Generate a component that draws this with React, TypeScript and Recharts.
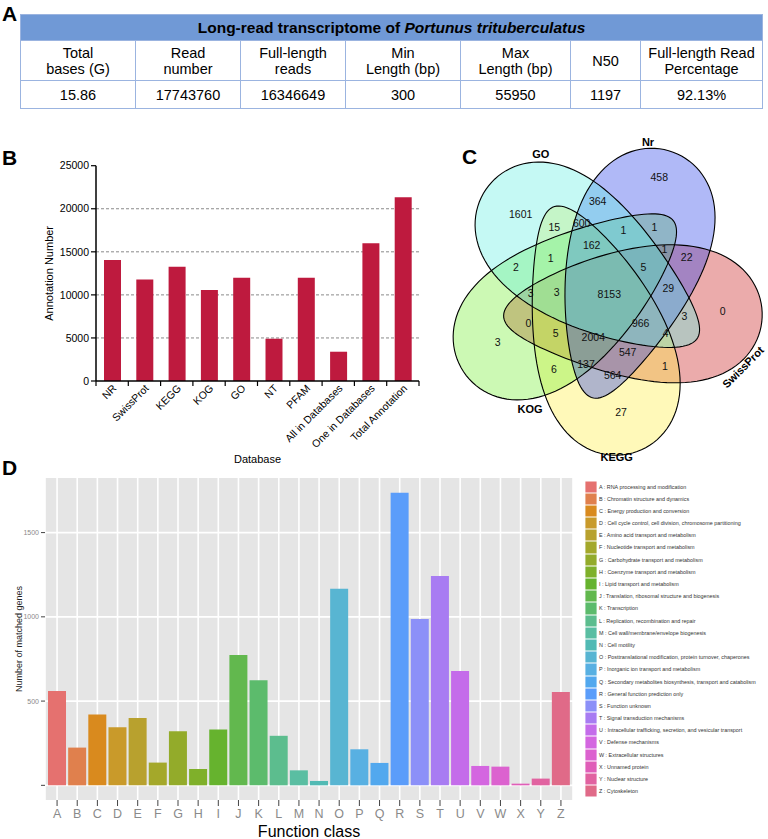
import React from 'react'
import {
  BarChart, Bar, XAxis, YAxis, CartesianGrid, Cell, Label,
  ScatterChart, Scatter,
} from 'recharts'

const FONT = 'Arial, "Liberation Sans", Helvetica, sans-serif'

// ---- panel A: summary table
const SUMMARY_TITLE = 'Long-read transcriptome of '
const SUMMARY_SPECIES = 'Portunus trituberculatus'
const SUMMARY_HEADERS = [
  ['Total', 'bases (G)'], ['Read', 'number'], ['Full-length', 'reads'],
  ['Min', 'Length (bp)'], ['Max', 'Length (bp)'], ['N50'], ['Full-length Read', 'Percentage'],
]
const SUMMARY_VALUES = ['15.86', '17743760', '16346649', '300', '55950', '1197', '92.13%']
const COL_WIDTHS = [115, 105, 105, 115, 110, 70, 122]

// ---- panel B: annotation per database
const DATABASES = [
  'NR', 'SwissProt', 'KEGG', 'KOG', 'GO', 'NT', 'PFAM',
  'All in Databases', 'One in Databases', 'Total Annotation',
]
const ANNOTATION_COUNTS = [14050, 11800, 13270, 10560, 11990, 4910, 11990, 3400, 15990, 21330]
const B_TICKS = [0, 5000, 10000, 15000, 20000, 25000]

// ---- panel C: five-set venn
const VENN_SETS = ['SwissProt', 'KEGG', 'KOG', 'Nr', 'GO']
const VENN_COUNTS = [
  1601, 458, 364, 15, 600, 1, 1, 162, 1, 22, 2, 1, 5, 3, 3, 8153,
  29, 0, 966, 3, 0, 3, 5, 2004, 4, 547, 6, 137, 564, 1, 27,
]

// ---- panel D: KOG function classes
const FUNCTION_CLASSES = 'ABCDEFGHIJKLMNOPQRSTUVWXYZ'.split('')
const FUNCTION_NAMES = [
  'RNA processing and modification',
  'Chromatin structure and dynamics',
  'Energy production and conversion',
  'Cell cycle control, cell division, chromosome partitioning',
  'Amino acid transport and metabolism',
  'Nucleotide transport and metabolism',
  'Carbohydrate transport and metabolism',
  'Coenzyme transport and metabolism',
  'Lipid transport and metabolism',
  'Translation, ribosomal structure and biogenesis',
  'Transcription',
  'Replication, recombination and repair',
  'Cell wall/membrane/envelope biogenesis',
  'Cell motility',
  'Posttranslational modification, protein turnover, chaperones',
  'Inorganic ion transport and metabolism',
  'Secondary metabolites biosynthesis, transport and catabolism',
  'General function prediction only',
  'Function unknown',
  'Signal transduction mechanisms',
  'Intracellular trafficking, secretion, and vesicular transport',
  'Defense mechanisms',
  'Extracellular structures',
  'Unnamed protein',
  'Nuclear structure',
  'Cytoskeleton',
]
const MATCHED_GENES = [
  560, 224, 421, 345, 399, 135, 321, 97, 331, 774, 623, 294, 89,
  26, 1167, 214, 133, 1737, 987, 1243, 679, 115, 111, 10, 40, 554,
]
const D_TICKS = [0, 500, 1000, 1500]
const CLASS_COLORS = [
  '#e5716f', '#e0804d', '#d98a1e', '#c99a2a', '#b8a12e', '#a4a82a', '#93ab2a',
  '#7fb02a', '#66b32e', '#62b84e', '#5cbb6c', '#5cbd8e', '#5abea2', '#52bab4',
  '#58b5d2', '#58b0e2', '#52a8ee', '#5b9dfa', '#8c90f8', '#a87cf2', '#c46cea',
  '#d466e0', '#dc62cf', '#e05eb8', '#e162a0', '#e06a88',
]

// ---- layout (venn drawn in page pixel units)
const VENN_BOX = { left: 440, top: 130, width: 328, height: 340 }
const VENN_CENTER = { x: 604, y: 296 }
const VENN_STYLE: Record<string, { angle: number; fill: string }> = {
  GO: { angle: 133, fill: '#62f0e2' },
  Nr: { angle: 61, fill: '#2a40ea' },
  SwissProt: { angle: 349, fill: '#c81a1a' },
  KEGG: { angle: 277, fill: '#fff040' },
  KOG: { angle: 205, fill: '#76f034' },
}
const VENN_OPACITY = 0.37
const VENN_LABEL_POS: Record<string, [number, number, number]> = {
  GO: [540.7, 154, 0], Nr: [648, 141.7, 0], SwissProt: [743, 367, -45],
  KEGG: [616.7, 456.7, 0], KOG: [530, 409, 0],
}
const VENN_COUNT_POS = [
  [520.7, 214.3], [659.3, 176.7], [597.7, 200.7], [554.3, 227.3], [581.7, 223.3],
  [623.3, 230], [654.3, 226.7], [591.7, 244.7], [664.3, 248.7], [686.7, 256.7],
  [516, 266.7], [550.7, 257.7], [643.3, 267.3], [530.7, 292.7], [556.7, 291.7],
  [609.3, 294.3], [668.3, 288.3], [528.3, 322.7], [640.7, 322.7], [684.3, 316],
  [722.7, 310.7], [497.7, 342.3], [555.7, 333.3], [593.3, 336.7], [665.7, 333.3],
  [627.7, 352.3], [554, 369], [586, 364.3], [612.7, 375], [665, 365.7], [621, 412.3],
]
const EGG = { mid: 32.5, half: 127.5, width: 66, taper: 0.35, skew: -36 }

const B_PLOT = { left: 96, right: 419 }
const B_BAND = (B_PLOT.right - B_PLOT.left) / DATABASES.length

function eggPath(cx: number, cy: number, angleDeg: number) {
  const a = (angleDeg * Math.PI) / 180
  const ca = Math.cos(a), sa = Math.sin(a)
  const pts: string[] = []
  const n = 120
  for (let i = 0; i <= n; i++) {
    const t = (i / n) * Math.PI * 2
    const u = EGG.mid + EGG.half * Math.cos(t)
    const s = (1 - Math.cos(t)) / 2
    const v = EGG.width * Math.sin(t) * (1 + EGG.taper * Math.cos(t)) + EGG.skew * s * s
    pts.push(`${(cx + u * ca - v * sa).toFixed(2)},${(cy - (u * sa + v * ca)).toFixed(2)}`)
  }
  return 'M' + pts.join('L') + 'Z'
}

const bData = DATABASES.map((name, i) => ({ name, value: ANNOTATION_COUNTS[i] }))
const dData = FUNCTION_CLASSES.map((cls, i) => ({ cls, value: MATCHED_GENES[i] }))
const vennSets = VENN_SETS.map(name => ({ x: VENN_CENTER.x, y: VENN_CENTER.y, name, ...VENN_STYLE[name] }))
const vennCounts = VENN_COUNTS.map((n, i) => ({ x: VENN_COUNT_POS[i][0], y: VENN_COUNT_POS[i][1], label: String(n) }))
const vennLabels = VENN_SETS.map(name => ({
  x: VENN_LABEL_POS[name][0], y: VENN_LABEL_POS[name][1], rot: VENN_LABEL_POS[name][2], label: name,
}))

function DbTick(props: any) {
  const { x, y, payload, index } = props
  const last = index === DATABASES.length - 1
  const tx = x + 5
  const ty = y + 8
  return (
    <g>
      <line x1={x - B_BAND / 2} x2={x - B_BAND / 2} y1={y} y2={y + 5} stroke="#000" strokeWidth={1.2} />
      {last && <line x1={x + B_BAND / 2} x2={x + B_BAND / 2} y1={y} y2={y + 5} stroke="#000" strokeWidth={1.2} />}
      <text x={tx} y={ty} transform={`rotate(-45 ${tx} ${ty})`} textAnchor="end"
        fontSize={10.5} fontFamily={FONT} fill="#000">{payload.value}</text>
    </g>
  )
}

const panelLetter = (ch: string, left: number, top: number): React.ReactNode => (
  <div style={{
    position: 'absolute', left, top, fontFamily: FONT, fontWeight: 'bold',
    fontSize: 21, lineHeight: '21px', color: '#000',
  }}>{ch}</div>
)

const cellBorder = '1px solid #9bb4e0'

export default function App() {
  return (
    <div style={{ position: 'absolute', left: 0, top: 0, width: 768, height: 839, background: '#fff', fontFamily: FONT }}>
      {panelLetter('A', 2, 3)}
      <table style={{
        position: 'absolute', left: 20, top: 14, width: 742, borderCollapse: 'collapse',
        tableLayout: 'fixed', fontFamily: FONT, color: '#000',
      }}>
        <colgroup>{COL_WIDTHS.map((w, i) => <col key={i} style={{ width: w }} />)}</colgroup>
        <tbody>
          <tr>
            <td colSpan={7} style={{
              height: 25, padding: 0, background: '#7099d6', border: cellBorder,
              textAlign: 'center', fontWeight: 'bold', fontSize: 15.5,
            }}>
              {SUMMARY_TITLE}<i>{SUMMARY_SPECIES}</i>
            </td>
          </tr>
          <tr>
            {SUMMARY_HEADERS.map((h, i) => (
              <td key={i} style={{
                height: 39, padding: 0, border: cellBorder, textAlign: 'center',
                fontSize: 14.5, lineHeight: '16px',
              }}>
                {h.map((line, j) => <div key={j}>{line}</div>)}
              </td>
            ))}
          </tr>
          <tr>
            {SUMMARY_VALUES.map((v, i) => (
              <td key={i} style={{ height: 27, padding: 0, border: cellBorder, textAlign: 'center', fontSize: 14.5 }}>{v}</td>
            ))}
          </tr>
        </tbody>
      </table>

      {panelLetter('B', 2, 147)}
      <div style={{ position: 'absolute', left: 0, top: 150 }}>
        <BarChart width={430} height={320} data={bData}
          margin={{ top: 15.7, right: 430 - B_PLOT.right, bottom: 0, left: 0 }}>
          <CartesianGrid vertical={false} horizontalValues={[5000, 10000, 15000, 20000]}
            stroke="#8a8a8a" strokeDasharray="3 2" />
          <XAxis dataKey="name" height={89} interval={0} tick={<DbTick />} tickLine={false}
            tickSize={0} tickMargin={0} axisLine={{ stroke: '#000', strokeWidth: 1.5 }}>
            <Label value="Database" position="insideBottom" offset={7}
              style={{ fontSize: 11, fontFamily: FONT, fill: '#000' }} />
          </XAxis>
          <YAxis width={B_PLOT.left} domain={[0, 25000]} ticks={B_TICKS} interval={0}
            tick={{ fontSize: 10.5, fontFamily: FONT, fill: '#000' }}
            tickLine={{ stroke: '#000', strokeWidth: 1.2 }} tickSize={5}
            axisLine={{ stroke: '#000', strokeWidth: 1.5 }}>
            <Label value="Annotation Number" angle={-90} position="insideLeft" offset={49}
              style={{ fontSize: 11, fontFamily: FONT, fill: '#000', textAnchor: 'middle' }} />
          </YAxis>
          <Bar dataKey="value" fill="#be1a3e" barSize={17} isAnimationActive={false} />
        </BarChart>
      </div>

      {panelLetter('C', 462, 146)}
      <div style={{ position: 'absolute', left: VENN_BOX.left, top: VENN_BOX.top }}>
        <ScatterChart width={VENN_BOX.width} height={VENN_BOX.height} margin={{ top: 0, right: 0, bottom: 0, left: 0 }}>
          <XAxis type="number" dataKey="x" domain={[VENN_BOX.left, VENN_BOX.left + VENN_BOX.width]} hide />
          <YAxis type="number" dataKey="y" domain={[VENN_BOX.top, VENN_BOX.top + VENN_BOX.height]} reversed hide />
          <Scatter data={vennSets} isAnimationActive={false}
            shape={(p: any) => <path d={eggPath(p.cx, p.cy, p.payload.angle)} fill={p.payload.fill} fillOpacity={VENN_OPACITY} stroke="none" />} />
          <Scatter data={vennSets} isAnimationActive={false}
            shape={(p: any) => <path d={eggPath(p.cx, p.cy, p.payload.angle)} fill="none" stroke="#000" strokeWidth={1.1} />} />
          <Scatter data={vennCounts} isAnimationActive={false}
            shape={(p: any) => (
              <text x={p.cx} y={p.cy} textAnchor="middle" dominantBaseline="central"
                fontSize={10.5} fontFamily={FONT} fill="#111">{p.payload.label}</text>
            )} />
          <Scatter data={vennLabels} isAnimationActive={false}
            shape={(p: any) => (
              <text x={p.cx} y={p.cy} textAnchor="middle" dominantBaseline="central"
                transform={`rotate(${p.payload.rot} ${p.cx} ${p.cy})`}
                fontSize={11} fontWeight="bold" fontFamily={FONT} fill="#000">{p.payload.label}</text>
            )} />
        </ScatterChart>
      </div>

      {panelLetter('D', 2, 457)}
      <div style={{ position: 'absolute', left: 0, top: 460 }}>
        <BarChart width={583} height={379} data={dData} barCategoryGap="5%"
          margin={{ top: 18, right: 10, bottom: 0, left: 0 }}>
          <CartesianGrid fill="#e5e5e5" fillOpacity={1} stroke="#fff" strokeWidth={1.6} horizontalValues={D_TICKS} />
          <XAxis dataKey="cls" height={39} interval={0} padding={{ left: 2, right: 2 }}
            axisLine={false} tickLine={{ stroke: '#444', strokeWidth: 1 }} tickSize={6} tickMargin={3}
            tick={{ fontSize: 12.5, fontFamily: FONT, fill: '#8a8a8a' }}>
            <Label value="Function class" position="insideBottom" offset={2}
              style={{ fontSize: 16, fontFamily: FONT, fill: '#000' }} />
          </XAxis>
          <YAxis width={45} domain={[-87, 1824]} ticks={D_TICKS} interval={0} allowDataOverflow
            axisLine={false} tickLine={{ stroke: '#444', strokeWidth: 1 }} tickSize={4}
            tickFormatter={(v: number) => (v === 0 ? '' : String(v))}
            tick={{ fontSize: 7, fontFamily: FONT, fill: '#8a8a8a' }}>
            <Label value="Number of matched genes" angle={-90} position="insideLeft" offset={19}
              style={{ fontSize: 9, fontFamily: FONT, fill: '#222', textAnchor: 'middle' }} />
          </YAxis>
          <Bar dataKey="value" isAnimationActive={false}>
            {dData.map((d, i) => <Cell key={d.cls} fill={CLASS_COLORS[i]} />)}
          </Bar>
        </BarChart>
      </div>

      <div style={{ position: 'absolute', left: 585, top: 480.5 }}>
        {FUNCTION_CLASSES.map((cls, i) => (
          <div key={cls} style={{ position: 'relative', height: 12.2, whiteSpace: 'nowrap' }}>
            <div style={{
              position: 'absolute', left: 0, top: 0, width: 12, height: 12.2,
              background: CLASS_COLORS[i], boxShadow: 'inset 0 0 0 0.4px #fff',
            }} />
            <div style={{
              position: 'absolute', left: 14, top: 0, fontSize: 5.4, lineHeight: '12.2px',
              color: '#333', fontFamily: FONT,
            }}>{cls} : {FUNCTION_NAMES[i]}</div>
          </div>
        ))}
      </div>
    </div>
  )
}
